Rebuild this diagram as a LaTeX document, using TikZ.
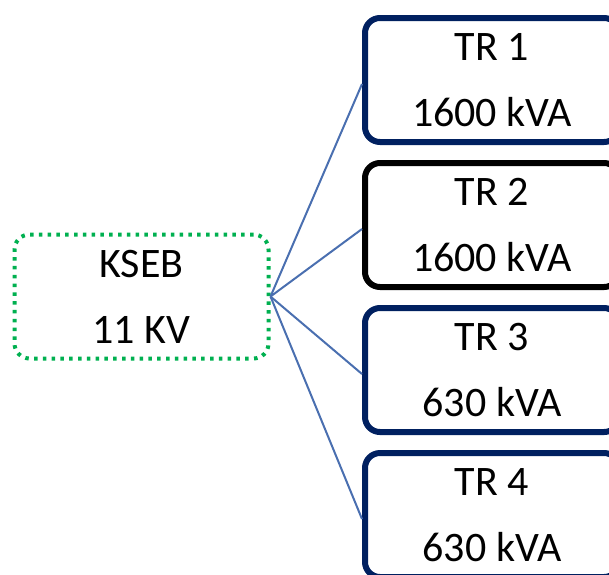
\documentclass[tikz,border=0pt]{standalone}
\usepackage{fontspec}
\setmainfont{Carlito}
\definecolor{navy}{HTML}{002060}
\definecolor{kgreen}{HTML}{00B050}
\definecolor{wireblue}{HTML}{4A6FB0}
\begin{document}
\begin{tikzpicture}[x=1pt, y=-1pt,
    box/.style={rectangle, rounded corners=15pt, minimum width=254pt, minimum height=124pt,
        inner sep=0pt, align=center, font=\fontsize{42}{66}\selectfont},
    trbox/.style={box, draw=#1, line width=6pt},
    supply/.style={box, draw=kgreen, line width=4pt, dash pattern=on 3.5pt off 5.3pt},
    wire/.style={draw=wireblue, line width=2pt}]
    \useasboundingbox (0,0) rectangle (609,574);
    \clip (0,0) rectangle (609,574);

    % Supply
    \node[supply] (kseb) at (141.5,296.5) {KSEB\\11 KV};

    % Transformers
    \foreach \i/\rating/\col in {1/1600/navy, 2/1600/black, 3/630/navy, 4/630/navy} {
        \node[trbox=\col] (tr\i) at (492,{80+145*(\i-1)}) {TR \i\\\rating{} kVA};
        \draw[wire] (kseb.east) -- ([yshift=-4pt]tr\i.west);
    }
\end{tikzpicture}
\end{document}
